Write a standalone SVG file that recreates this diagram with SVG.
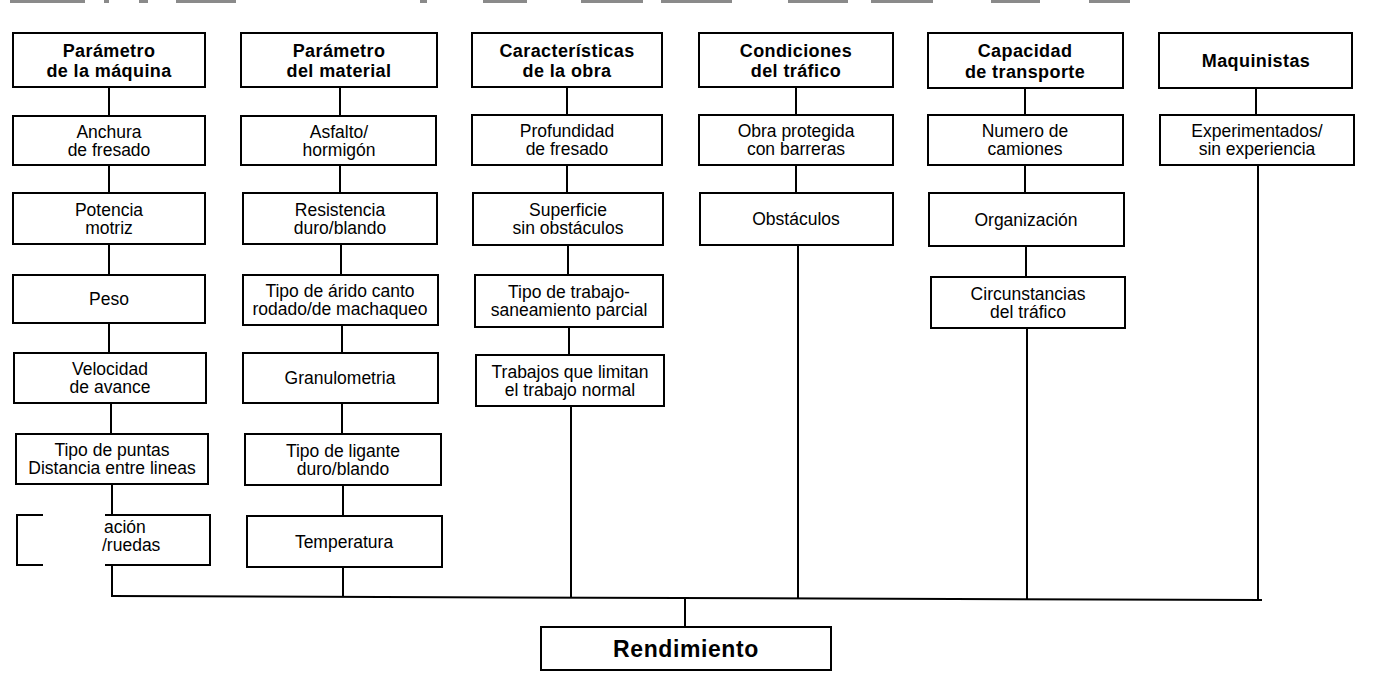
<svg xmlns="http://www.w3.org/2000/svg" width="1383" height="678" viewBox="0 0 1383 678">
<style>
.box{fill:#fff;stroke:#000;stroke-width:2}
.c{fill:none;stroke:#000;stroke-width:2}
text{font-family:"Liberation Sans",Arial,Helvetica,sans-serif;fill:#000}
.t{font-size:17.5px;text-anchor:middle}
.h{font-size:18px;font-weight:bold;text-anchor:middle;letter-spacing:0.4px}
.r{font-size:23px;font-weight:bold;text-anchor:middle;letter-spacing:0.6px}
.n{fill:#8a8a8a}
</style>
<rect width="1383" height="678" fill="#fff"/>
<g id="scan-marks" class="n">
<rect x="10" y="0" width="75" height="3"/><rect x="104" y="0" width="5" height="3"/><rect x="139" y="0" width="9" height="3"/><rect x="176" y="0" width="60" height="3"/><rect x="420" y="0" width="7" height="3"/><rect x="483" y="0" width="44" height="3"/><rect x="581" y="0" width="62" height="3"/><rect x="661" y="0" width="71" height="3"/><rect x="788" y="0" width="60" height="3"/><rect x="871" y="0" width="62" height="3"/><rect x="991" y="0" width="49" height="3"/><rect x="1089" y="0" width="41" height="3"/>
</g>
<g id="connectors" class="c">
<path d="M109,87V116M109,165V193M109,244V275M109,323V353M111,403V434M112,484V515M112,565V597"/>
<path d="M340,87V116M340,165V193M341,244V275M342,325V353M342,403V434M343,485V516M343,567V597"/>
<path d="M567,87V115M567,165V193M568,245V275M569,327V355M571,406V598"/>
<path d="M796,87V115M796,165V193M798,245V598"/>
<path d="M1025,88V115M1025,165V193M1026,246V277M1027,328V599"/>
<path d="M1256,88V115M1258,165V600"/>
<path d="M111,596L1262,600"/>
<path d="M685,598V627"/>
</g>
<g id="col1">
<g id="h1"><rect class="box" x="13" y="33" width="192" height="54"/><text class="h" x="109" y="56.5">Parámetro</text><text class="h" x="109" y="77">de la máquina</text></g>
<g id="n1a"><rect class="box" x="13" y="116" width="192" height="49"/><text class="t" x="109" y="137.5">Anchura</text><text class="t" x="109" y="155.5">de fresado</text></g>
<g id="n1b"><rect class="box" x="13" y="193" width="192" height="51"/><text class="t" x="109" y="215.5">Potencia</text><text class="t" x="109" y="233.5">motriz</text></g>
<g id="n1c"><rect class="box" x="13" y="275" width="192" height="48"/><text class="t" x="109" y="305">Peso</text></g>
<g id="n1d"><rect class="box" x="14" y="353" width="192" height="50"/><text class="t" x="110" y="375">Velocidad</text><text class="t" x="110" y="393">de avance</text></g>
<g id="n1e"><rect class="box" x="16" y="434" width="192" height="50"/><text class="t" x="112" y="456">Tipo de puntas</text><text class="t" x="112" y="474">Distancia entre lineas</text></g>
<g id="n1f"><path class="c" d="M43,515H17V565H43M105,515H210V565H105"/><text class="t" x="104" y="533" style="text-anchor:start">ación</text><text class="t" x="102" y="551" style="text-anchor:start">/ruedas</text></g>
</g>
<g id="col2">
<g id="h2"><rect class="box" x="241" y="33" width="196" height="54"/><text class="h" x="339" y="56.5">Parámetro</text><text class="h" x="339" y="77">del material</text></g>
<g id="n2a"><rect class="box" x="241" y="116" width="195" height="49"/><text class="t" x="339" y="137.5">Asfalto/</text><text class="t" x="339" y="155.5">hormigón</text></g>
<g id="n2b"><rect class="box" x="243" y="193" width="194" height="51"/><text class="t" x="340" y="215.5">Resistencia</text><text class="t" x="340" y="233.5">duro/blando</text></g>
<g id="n2c"><rect class="box" x="243" y="275" width="195" height="50"/><text class="t" x="340" y="297">Tipo de árido canto</text><text class="t" x="340" y="315">rodado/de machaqueo</text></g>
<g id="n2d"><rect class="box" x="243" y="353" width="195" height="50"/><text class="t" x="340" y="384">Granulometria</text></g>
<g id="n2e"><rect class="box" x="245" y="434" width="196" height="51"/><text class="t" x="343" y="456.5">Tipo de ligante</text><text class="t" x="343" y="474.5">duro/blando</text></g>
<g id="n2f"><rect class="box" x="247" y="516" width="195" height="51"/><text class="t" x="344" y="547.5">Temperatura</text></g>
</g>
<g id="col3">
<g id="h3"><rect class="box" x="472" y="33" width="190" height="54"/><text class="h" x="567" y="56.5">Características</text><text class="h" x="567" y="77">de la obra</text></g>
<g id="n3a"><rect class="box" x="472" y="115" width="190" height="50"/><text class="t" x="567" y="137">Profundidad</text><text class="t" x="567" y="155">de fresado</text></g>
<g id="n3b"><rect class="box" x="473" y="193" width="190" height="52"/><text class="t" x="568" y="216">Superficie</text><text class="t" x="568" y="234">sin obstáculos</text></g>
<g id="n3c"><rect class="box" x="475" y="275" width="188" height="52"/><text class="t" x="569" y="298">Tipo de trabajo-</text><text class="t" x="569" y="316">saneamiento parcial</text></g>
<g id="n3d"><rect class="box" x="476" y="355" width="188" height="51"/><text class="t" x="570" y="377.5">Trabajos que limitan</text><text class="t" x="570" y="395.5">el trabajo normal</text></g>
</g>
<g id="col4">
<g id="h4"><rect class="box" x="699" y="33" width="194" height="54"/><text class="h" x="796" y="56.5">Condiciones</text><text class="h" x="796" y="77">del tráfico</text></g>
<g id="n4a"><rect class="box" x="699" y="115" width="194" height="50"/><text class="t" x="796" y="137">Obra protegida</text><text class="t" x="796" y="155">con barreras</text></g>
<g id="n4b"><rect class="box" x="700" y="193" width="193" height="52"/><text class="t" x="796" y="225">Obstáculos</text></g>
</g>
<g id="col5">
<g id="h5"><rect class="box" x="928" y="33" width="195" height="55"/><text class="h" x="1025" y="57">Capacidad</text><text class="h" x="1025" y="77.5">de transporte</text></g>
<g id="n5a"><rect class="box" x="928" y="115" width="195" height="50"/><text class="t" x="1025" y="137">Numero de</text><text class="t" x="1025" y="155">camiones</text></g>
<g id="n5b"><rect class="box" x="929" y="193" width="195" height="53"/><text class="t" x="1026" y="225.5">Organización</text></g>
<g id="n5c"><rect class="box" x="931" y="277" width="194" height="51"/><text class="t" x="1028" y="299.5">Circunstancias</text><text class="t" x="1028" y="317.5">del tráfico</text></g>
</g>
<g id="col6">
<g id="h6"><rect class="box" x="1159" y="33" width="193" height="55"/><text class="h" x="1256" y="66.5">Maquinistas</text></g>
<g id="n6a"><rect class="box" x="1160" y="115" width="194" height="50"/><text class="t" x="1257" y="137">Experimentados/</text><text class="t" x="1257" y="155">sin experiencia</text></g>
</g>
<g id="rendimiento"><rect class="box" x="541" y="627" width="290" height="43"/><text class="r" x="686" y="656.5">Rendimiento</text></g>
</svg>
